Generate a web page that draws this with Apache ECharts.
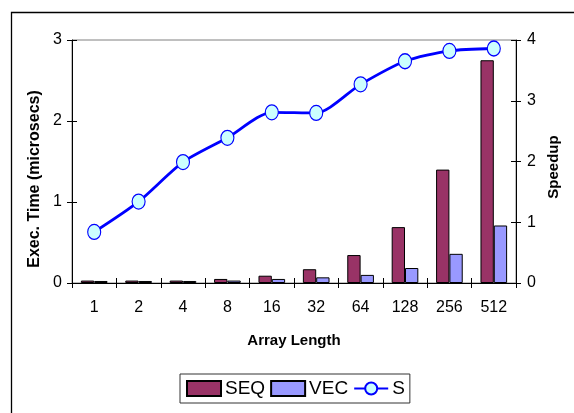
<!DOCTYPE html>
<html>
<head>
<meta charset="utf-8">
<script src="https://cdn.jsdelivr.net/npm/echarts@6/dist/echarts.min.js"></script>
<style>
  html, body { margin: 0; padding: 0; background: #fff; }
  #chart { width: 574px; height: 413px; }
</style>
</head>
<body>
<div id="chart"></div>
<script>
// Array lengths on the category axis
const arrayLengths = ['1', '2', '4', '8', '16', '32', '64', '128', '256', '512'];
// Execution time in microseconds, sequential and vectorised
const seqTimes = [0.03, 0.03, 0.03, 0.05, 0.09, 0.17, 0.345, 0.69, 1.40, 2.75];
const vecTimes = [0.025, 0.025, 0.025, 0.03, 0.05, 0.07, 0.10, 0.185, 0.36, 0.71];
// Speedup SEQ / VEC
const speedup = [0.84, 1.34, 1.99, 2.39, 2.81, 2.80, 3.27, 3.65, 3.82, 3.86];

const FONT = "'Liberation Sans', Arial, sans-serif";
const chart = echarts.init(document.getElementById('chart'), null, { renderer: 'canvas' });

const tickStyle = { color: '#000', width: 1 };

chart.setOption({
  animation: false,
  backgroundColor: '#fff',
  textStyle: { fontFamily: FONT, color: '#000' },
  graphic: [{
    type: 'rect',
    left: 9, top: 10,
    shape: { width: 620, height: 460 },
    style: { fill: 'none', stroke: '#000', lineWidth: 1.3 },
    silent: true, z: -1
  }],
  grid: {
    left: 72, right: 58, top: 40, bottom: 130,
    show: true, borderColor: '#808080', borderWidth: 1, backgroundColor: 'transparent'
  },
  legend: {
    left: 180, top: 374,
    padding: [5, 5, 5, 6],
    itemWidth: 34, itemHeight: 15, itemGap: 5,
    borderColor: '#333', borderWidth: 1, backgroundColor: '#fff',
    textStyle: { fontFamily: FONT, fontSize: 19, color: '#000', padding: [0, 0, 0, -1] },
    data: [
      { name: 'SEQ', icon: 'rect' },
      { name: 'VEC', icon: 'rect' },
      { name: 'S' }
    ]
  },
  xAxis: [{
    type: 'category',
    data: arrayLengths,
    position: 'bottom',
    axisLine: { lineStyle: { color: '#000', width: 1 } },
    axisTick: { show: true, inside: false, length: 5, lineStyle: tickStyle },
    axisLabel: { fontFamily: FONT, fontSize: 16, color: '#000', margin: 17 },
    name: 'Array Length',
    nameLocation: 'middle',
    nameGap: 50,
    nameTextStyle: { fontFamily: FONT, fontSize: 15, fontWeight: 'bold', color: '#000' },
    splitLine: { show: false }
  }, {
    type: 'category',
    data: arrayLengths,
    position: 'bottom',
    axisLine: { show: false },
    axisTick: { show: true, inside: true, length: 5, lineStyle: tickStyle },
    axisLabel: { show: false },
    splitLine: { show: false }
  }],
  yAxis: [{
    type: 'value',
    position: 'left',
    min: 0, max: 3, interval: 1,
    axisLine: { show: true, lineStyle: { color: '#000', width: 1 } },
    axisTick: { show: true, inside: false, length: 5, lineStyle: tickStyle },
    axisLabel: { fontFamily: FONT, fontSize: 16, color: '#000', margin: 10 },
    splitLine: { show: false },
    name: 'Exec. Time (microsecs)',
    nameLocation: 'middle',
    nameRotate: 90,
    nameGap: 28,
    nameTextStyle: { fontFamily: FONT, fontSize: 16, fontWeight: 'bold', color: '#000', padding: [0, 35, 0, 0] }
  }, {
    type: 'value',
    position: 'right',
    min: 0, max: 4, interval: 1,
    axisLine: { show: true, lineStyle: { color: '#000', width: 1 } },
    axisTick: { show: true, inside: false, length: 5, lineStyle: tickStyle },
    axisLabel: { fontFamily: FONT, fontSize: 16, color: '#000', margin: 11 },
    splitLine: { show: false },
    name: 'Speedup',
    nameLocation: 'middle',
    nameRotate: 90,
    nameGap: 29,
    nameTextStyle: { fontFamily: FONT, fontSize: 15, fontWeight: 'bold', color: '#000', padding: [0, 11, 0, 0] }
  }, {
    type: 'value',
    position: 'left',
    min: 0, max: 3, interval: 1,
    axisLine: { show: false },
    axisTick: { show: true, inside: true, length: 5, lineStyle: tickStyle },
    axisLabel: { show: false },
    splitLine: { show: false }
  }, {
    type: 'value',
    position: 'right',
    min: 0, max: 4, interval: 1,
    axisLine: { show: false },
    axisTick: { show: true, inside: true, length: 5, lineStyle: tickStyle },
    axisLabel: { show: false },
    splitLine: { show: false }
  }],
  series: [{
    name: 'SEQ',
    type: 'bar',
    xAxisIndex: 0, yAxisIndex: 0,
    data: seqTimes,
    barGap: '0%',
    barCategoryGap: '40%',
    itemStyle: { color: '#993366', borderColor: '#000', borderWidth: 1 }
  }, {
    name: 'VEC',
    type: 'bar',
    xAxisIndex: 0, yAxisIndex: 0,
    data: vecTimes,
    barGap: '0%',
    barCategoryGap: '40%',
    itemStyle: { color: '#9999FF', borderColor: '#000', borderWidth: 1 }
  }, {
    name: 'S',
    type: 'line',
    xAxisIndex: 0, yAxisIndex: 1,
    data: speedup,
    smooth: 0.25,
    symbol: 'circle',
    symbolSize: [13, 15],
    lineStyle: { color: '#0000FF', width: 2.8 },
    itemStyle: { color: '#CCFFFF', borderColor: '#0000FF', borderWidth: 1.2 },
    z: 5
  }]
});
</script>
</body>
</html>
